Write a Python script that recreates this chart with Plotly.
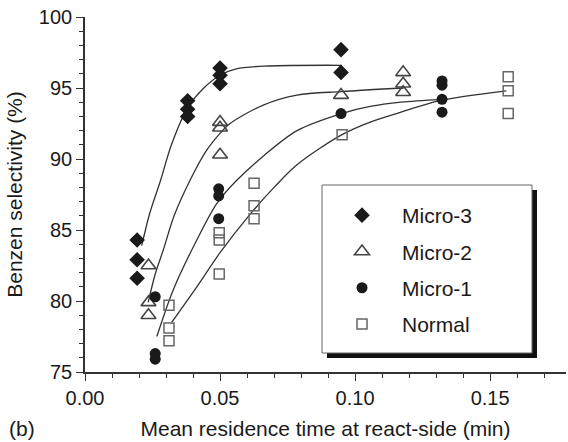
import plotly.graph_objects as go

# ---------------- data ----------------
series_names = ["Micro-3", "Micro-2", "Micro-1", "Normal"]

m3_x = [0.0193, 0.0193, 0.0193, 0.038, 0.038, 0.038, 0.05, 0.05, 0.05, 0.0948, 0.0948]
m3_y = [84.3, 82.9, 81.6, 94.1, 93.5, 93.0, 96.4, 95.9, 95.3, 97.7, 96.1]

m2_x = [0.0235, 0.0235, 0.0235, 0.05, 0.05, 0.05, 0.0948, 0.1178, 0.1178, 0.1178]
m2_y = [82.5, 79.9, 79.0, 92.6, 92.2, 90.3, 94.5, 96.1, 95.3, 94.7]

m1_x = [0.026, 0.026, 0.026, 0.0495, 0.0495, 0.0495, 0.0948, 0.1322, 0.1322, 0.1322, 0.1322]
m1_y = [80.3, 76.3, 75.9, 87.9, 87.4, 85.8, 93.2, 95.5, 95.2, 94.2, 93.3]

nm_x = [0.0311, 0.0311, 0.0311, 0.0497, 0.0497, 0.0497, 0.0626, 0.0626, 0.0626, 0.0952, 0.1567, 0.1567, 0.1567]
nm_y = [79.7, 78.1, 77.2, 84.8, 84.3, 81.9, 88.3, 86.7, 85.8, 91.7, 95.8, 94.8, 93.2]

# fitted curves
c3_x = [0.021, 0.024, 0.028, 0.032, 0.038, 0.044, 0.05, 0.056, 0.068, 0.095]
c3_y = [83.9, 86.2, 88.5, 91.0, 93.6, 95.0, 95.9, 96.35, 96.55, 96.6]

c2_x = [0.0234, 0.026, 0.029, 0.033, 0.0389, 0.045, 0.05, 0.0537, 0.066, 0.0785, 0.095, 0.118]
c2_y = [79.9, 81.9, 83.6, 86.0, 88.5, 90.6, 91.8, 92.5, 93.8, 94.5, 94.75, 95.0]

c1_x = [0.0266, 0.0327, 0.0414, 0.0489, 0.0562, 0.066, 0.0785, 0.095, 0.1056, 0.117, 0.132]
c1_y = [77.5, 80.8, 84.3, 86.9, 88.5, 90.2, 92.0, 93.2, 93.7, 94.0, 94.2]

cn_x = [0.0321, 0.0414, 0.05, 0.0611, 0.07, 0.0785, 0.095, 0.1056, 0.117, 0.131, 0.156]
cn_y = [78.5, 81.0, 83.4, 86.1, 88.0, 89.6, 91.7, 92.6, 93.3, 94.1, 94.8]

x_ticks = [0.00, 0.05, 0.10, 0.15]
x_tick_labels = ["0.00", "0.05", "0.10", "0.15"]
y_ticks = [75, 80, 85, 90, 95, 100]
y_tick_labels = ["75", "80", "85", "90", "95", "100"]

# ---------------- figure ----------------
W, H = 568, 442
ML, MR, MT, MB = 85, 2, 17, 70
XR = [0.0, 0.1781]
YR = [75, 100]

FONT = "Liberation Sans, Arial, Helvetica, sans-serif"
INK = "#1a1a1a"
LINE = "#333333"

fig = go.Figure()

for cx, cy in [(c3_x, c3_y), (c2_x, c2_y), (c1_x, c1_y), (cn_x, cn_y)]:
    fig.add_trace(go.Scatter(x=cx, y=cy, mode="lines",
                             line=dict(color=LINE, width=1.3, shape="spline", smoothing=0.9),
                             showlegend=False, hoverinfo="skip"))

marker_styles = [
    dict(symbol="diamond", size=12, color=INK, line=dict(width=0)),
    dict(symbol="triangle-up-open", size=13, color="#444444", line=dict(width=1.6)),
    dict(symbol="circle", size=11, color=INK, line=dict(width=0)),
    dict(symbol="square-open", size=10, color="#666666", line=dict(width=1.5)),
]
for i, (nm, xs, ys) in enumerate(zip(series_names, [m3_x, m2_x, m1_x, nm_x], [m3_y, m2_y, m1_y, nm_y])):
    fig.add_trace(go.Scatter(x=xs, y=ys, mode="markers", name=nm,
                             marker=marker_styles[i], legendgroup=f"g{i}"))

# helpers: reference-image pixel -> data / paper coords
def px_to_x(px):
    return XR[0] + (px - ML) / (W - ML - MR) * (XR[1] - XR[0])

def py_to_y(py):
    return YR[1] - (py - MT) / (H - MT - MB) * (YR[1] - YR[0])

def px_to_paper(px):
    return (px - ML) / (W - ML - MR)

def py_to_paper(py):
    return (H - MB - py) / (H - MT - MB)

# legend box with drop shadow
fig.add_shape(type="rect", xref="x", yref="y",
              x0=px_to_x(327), x1=px_to_x(537), y0=py_to_y(358), y1=py_to_y(190),
              fillcolor="#111111", line=dict(width=0), layer="below")
fig.add_shape(type="rect", xref="x", yref="y",
              x0=px_to_x(322), x1=px_to_x(532), y0=py_to_y(353), y1=py_to_y(185),
              fillcolor="white", line=dict(color="#666666", width=1), layer="below")

axis_common = dict(showgrid=False, zeroline=False, linecolor=LINE, linewidth=1.6,
                   tickcolor=LINE, tickwidth=1.4)

fig.update_layout(
    width=W, height=H,
    margin=dict(l=ML, r=MR, t=MT, b=MB, autoexpand=False),
    paper_bgcolor="white", plot_bgcolor="white",
    font=dict(family=FONT, color=INK, size=20),
    showlegend=True,
    legend=dict(x=px_to_paper(322), y=py_to_paper(195),
                xanchor="left", yanchor="top",
                bgcolor="rgba(0,0,0,0)", borderwidth=0,
                font=dict(size=21, family=FONT, color=INK),
                itemwidth=70, tracegroupgap=6, traceorder="grouped"),
    xaxis=dict(range=XR, tickvals=x_ticks, ticktext=x_tick_labels,
               ticks="outside", ticklen=7, showline=True, mirror=False,
               ticklabeloverflow="allow",
               minor=dict(ticks="outside", ticklen=4, dtick=0.01, tick0=0, tickcolor=LINE),
               title=dict(text="Mean residence time at react-side (min)",
                          font=dict(size=21), standoff=14),
               tickfont=dict(size=20), **axis_common),
    yaxis=dict(range=YR, tickvals=y_ticks, ticktext=y_tick_labels,
               ticks="outside", ticklen=7, showline=True, mirror=False,
               ticklabeloverflow="allow",
               minor=dict(ticks="outside", ticklen=4, dtick=1, tick0=75, tickcolor=LINE),
               title=dict(text="Benzen selectivity (%)", font=dict(size=21), standoff=10),
               tickfont=dict(size=20), **axis_common),
    xaxis2=dict(range=XR, overlaying="x", side="top", anchor="y",
                tickvals=x_ticks, showticklabels=False, ticks="inside", ticklen=6,
                minor=dict(ticks="inside", ticklen=4, dtick=0.01, tick0=0, tickcolor=LINE),
                showline=True, **axis_common),
    yaxis2=dict(range=YR, overlaying="y", side="right", anchor="x",
                tickvals=y_ticks, showticklabels=False, ticks="inside", ticklen=5,
                minor=dict(ticks="inside", ticklen=3, dtick=1, tick0=75, tickcolor="#cccccc"),
                showline=True, showgrid=False, zeroline=False,
                linecolor="#cccccc", linewidth=1, tickcolor=LINE, tickwidth=1.4),
    annotations=[dict(text="(b)", xref="paper", yref="paper",
                      x=px_to_paper(7), y=py_to_paper(428),
                      xanchor="left", yanchor="middle", showarrow=False,
                      font=dict(size=21, family=FONT, color=INK))],
)

fig.write_html("out.html", config={"displayModeBar": False},
               post_script="document.body.style.margin='0';document.body.style.overflow='hidden';")
